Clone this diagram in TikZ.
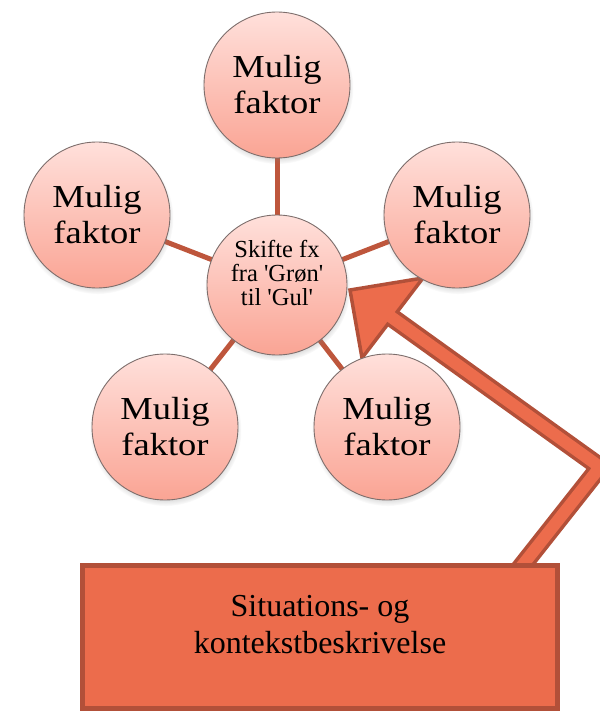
\documentclass[tikz,border=0pt]{standalone}
\usepackage{fontspec}
\setmainfont{Liberation Serif}
\newfontfamily\muligfont[FakeStretch=1.14]{Liberation Serif}
\usetikzlibrary{shadows}
\definecolor{arrowfill}{RGB}{236,108,76}
\definecolor{arrowedge}{RGB}{178,80,57}
\definecolor{linkcol}{RGB}{190,86,60}
\definecolor{bubtop}{RGB}{255,224,219}
\definecolor{bubbot}{RGB}{250,164,148}
\definecolor{bubedge}{RGB}{125,110,108}
\pgfdeclarelayer{bg}
\pgfdeclarelayer{mid}
\pgfsetlayers{bg,mid,main}
\begin{document}
\begin{tikzpicture}[x=1pt,y=-1pt,
  bubble/.style={circle, minimum size=146pt, inner sep=0pt,
    top color=bubtop, bottom color=bubbot, draw=bubedge, line width=0.9pt,
    circular drop shadow={shadow xshift=0.5pt, shadow yshift=-3pt, shadow scale=1.04, opacity=0.45},
    align=center, font=\muligfont\fontsize{32}{36}\selectfont},
  ctext/.style={align=center, inner sep=0pt, font=\fontsize{24.5}{24}\selectfont},
  link/.style={draw=linkcol, line width=5pt},
  rectbox/.style={rectangle, draw=arrowedge, fill=arrowfill, line width=5pt,
    minimum width=475pt, minimum height=143pt, inner sep=0pt},
  boxtext/.style={align=center, inner sep=0pt, font=\fontsize{32}{37}\selectfont}
]
\useasboundingbox (0,0) rectangle (599,711);

% circles
\node[bubble] (top) at (277,85) {Mulig\\faktor};
\node[bubble] (left) at (97,215) {Mulig\\faktor};
\node[bubble] (right) at (457,215) {Mulig\\faktor};
\node[bubble] (bl) at (165,427) {Mulig\\faktor};
\node[bubble] (br) at (387,427) {Mulig\\faktor};
\node[bubble, minimum size=140pt] (ctr) at (277,285) {};
\node[ctext] (ctrtext) at (277,272.5) {Skifte fx\\fra \textquotesingle Grøn\textquotesingle\\til \textquotesingle Gul\textquotesingle};

% connectors
\begin{pgfonlayer}{bg}
\draw[link] (ctr.center) -- (top.center);
\draw[link] (ctr.center) -- (left.center);
\draw[link] (ctr.center) -- (right.center);
\draw[link] (ctr.center) -- (bl.center);
\draw[link] (ctr.center) -- (br.center);
\end{pgfonlayer}

% big bent arrow
\begin{pgfonlayer}{mid}
\coordinate (P0) at (495,600);
\coordinate (C) at (600,467);
\coordinate (M) at (392.5,318);
\coordinate (Min) at (387.6,314.5);
\coordinate (T) at (350,290);
\coordinate (A) at (423,278);
\coordinate (B) at (362,358);
\draw[arrowedge, line width=19pt, line join=miter] (P0) -- (C) -- (M);
\filldraw[fill=arrowfill, draw=arrowedge, line width=3.5pt, line join=miter] (T) -- (A) -- (B) -- cycle;
\draw[arrowfill, line width=12pt, line join=miter] (P0) -- (C) -- (Min);
\end{pgfonlayer}

% situation box
\node[rectbox] (box) at (320,637) {};
\node[boxtext] (boxtext) at (320,624.5) {Situations- og\\kontekstbeskrivelse};
\end{tikzpicture}
\end{document}
